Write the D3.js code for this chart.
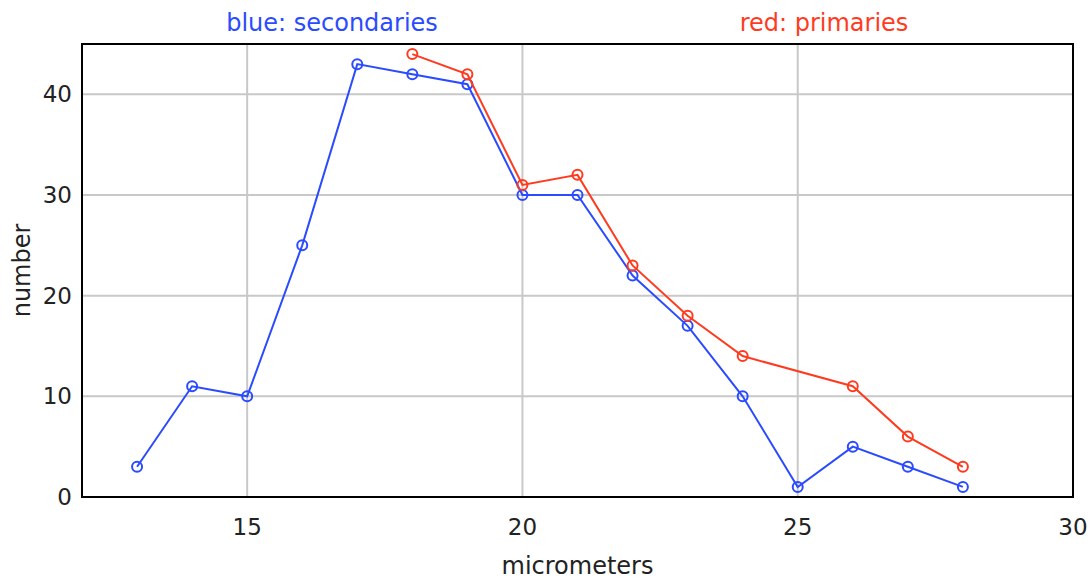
<!DOCTYPE html>
<html>
<head>
<meta charset="utf-8">
<script src="https://cdn.jsdelivr.net/npm/d3@7"></script>
<style>
  body { margin: 0; background: #fff; }
  text { font-family: "DejaVu Sans", sans-serif; }
</style>
</head>
<body>
<div id="chart"></div>
<script>
// secondaries (blue)
const blueX = [13, 14, 15, 16, 17, 18, 19, 20, 21, 22, 23, 24, 25, 26, 27, 28];
const blueY = [3, 11, 10, 25, 43, 42, 41, 30, 30, 22, 17, 10, 1, 5, 3, 1];
// primaries (red) - no value at 25
const redX = [18, 19, 20, 21, 22, 23, 24, 26, 27, 28];
const redY = [44, 42, 31, 32, 23, 18, 14, 11, 6, 3];

const xTicks = [15, 20, 25, 30];
const yTicks = [0, 10, 20, 30, 40];

const width = 1092, height = 580;
const margin = { left: 82, right: 19, top: 44, bottom: 83 };
const blue = "#2a4bff", red = "#ff3b1f";

const svg = d3.select('#chart').append('svg')
    .attr('width', width)
    .attr('height', height);

const x = d3.scaleLinear().domain([12, 30]).range([margin.left, width - margin.right]);
const y = d3.scaleLinear().domain([0, 45]).range([height - margin.bottom, margin.top]);

// grid
svg.append('g').selectAll('line')
    .data(xTicks.slice(0, -1))
    .join('line')
    .attr('x1', d => x(d)).attr('x2', d => x(d))
    .attr('y1', y(0)).attr('y2', y(45))
    .attr('stroke', '#c8c8c8').attr('stroke-width', 2);

svg.append('g').selectAll('line')
    .data(yTicks.slice(1))
    .join('line')
    .attr('x1', x(12)).attr('x2', x(30))
    .attr('y1', d => y(d)).attr('y2', d => y(d))
    .attr('stroke', '#c8c8c8').attr('stroke-width', 2);

// tick labels
svg.append('g').selectAll('text')
    .data(xTicks)
    .join('text')
    .attr('x', d => x(d))
    .attr('y', y(0) + 38)
    .attr('text-anchor', 'middle')
    .style('font-size', '23px')
    .style('fill', '#222')
    .text(d => d);

svg.append('g').selectAll('text')
    .data(yTicks)
    .join('text')
    .attr('x', margin.left - 10)
    .attr('y', d => y(d) + 8)
    .attr('text-anchor', 'end')
    .style('font-size', '23px')
    .style('fill', '#222')
    .text(d => d);

// frame
svg.append('rect')
    .attr('x', x(12)).attr('y', y(45))
    .attr('width', x(30) - x(12))
    .attr('height', y(0) - y(45))
    .attr('fill', 'none')
    .attr('stroke', '#000')
    .attr('stroke-width', 2);

// series
function drawSeries(xs, ys, color) {
    const pts = xs.map((v, i) => [v, ys[i]]);
    const line = d3.line().x(d => x(d[0])).y(d => y(d[1]));
    svg.append('path')
        .datum(pts)
        .attr('d', line)
        .attr('fill', 'none')
        .attr('stroke', color)
        .attr('stroke-width', 2);
    svg.append('g').selectAll('circle')
        .data(pts)
        .join('circle')
        .attr('cx', d => x(d[0]))
        .attr('cy', d => y(d[1]))
        .attr('r', 5)
        .attr('fill', 'none')
        .attr('stroke', color)
        .attr('stroke-width', 2);
}
drawSeries(blueX, blueY, blue);
drawSeries(redX, redY, red);

// titles
svg.append('text')
    .attr('x', 332).attr('y', 31)
    .attr('text-anchor', 'middle')
    .style('font-size', '24px')
    .style('fill', blue)
    .text('blue: secondaries');

svg.append('text')
    .attr('x', 824).attr('y', 31)
    .attr('text-anchor', 'middle')
    .style('font-size', '24px')
    .style('fill', red)
    .text('red: primaries');

svg.append('text')
    .attr('x', (x(12) + x(30)) / 2)
    .attr('y', 574)
    .attr('text-anchor', 'middle')
    .style('font-size', '24px')
    .style('fill', '#222')
    .text('micrometers');

svg.append('text')
    .attr('transform', `translate(30,${(y(0) + y(45)) / 2}) rotate(-90)`)
    .attr('text-anchor', 'middle')
    .style('font-size', '24px')
    .style('fill', '#222')
    .text('number');
</script>
</body>
</html>
